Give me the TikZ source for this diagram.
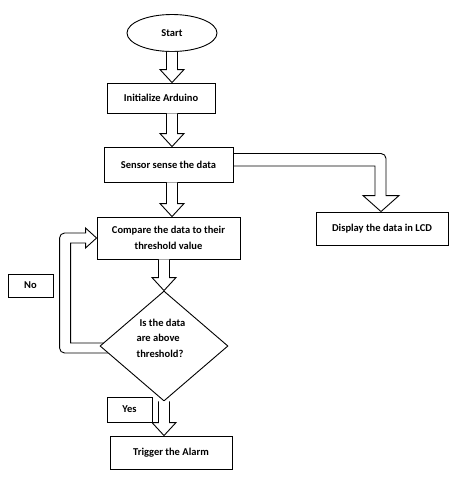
\documentclass[tikz,border=0pt]{standalone}
\usepackage{fontspec}
\setmainfont{Carlito}
\usetikzlibrary{shapes.geometric,calc}
\pgfdeclarelayer{bg}
\pgfsetlayers{bg,main}
\tikzset{
  every node/.style={font=\fontsize{10.5}{15.5}\selectfont\bfseries},
  box/.style={draw, line width=0.9pt, fill=white, inner sep=0pt, align=center},
  startnode/.style={box, ellipse, minimum width=90pt, minimum height=37pt},
  decision/.style={box, diamond, minimum width=128pt, minimum height=110pt},
  fatarrow/.style={draw, line width=0.9pt, fill=white, line join=miter},
}
\newcommand\fatdown[2]{%
  \draw[fatarrow] let \p1=(#1), \p2=(#2) in
    (\x1-5.5pt,\y1) -- (\x1-5.5pt,\y2+13pt) -- (\x1-12pt,\y2+13pt) -- (\x1,\y2)
    -- (\x1+12pt,\y2+13pt) -- (\x1+5.5pt,\y2+13pt) -- (\x1+5.5pt,\y1);}
\begin{document}
\begin{tikzpicture}[x=1pt,y=-1pt]
\useasboundingbox (0,0) rectangle (454,480);
\node[startnode] (start) at (172,33) {Start};
\node[box, minimum width=108pt, minimum height=30pt] (init) at (161,98) {Initialize Arduino};
\node[box, minimum width=129pt, minimum height=35pt] (sensor) at (168.5,164.5) {Sensor sense the data};
\node[box, minimum width=143pt, minimum height=42pt] (cmp) at (168.5,238) {Compare the data to their\\threshold value};
\node[decision] (dia) at (164,346) {};
\node[align=left, inner sep=0pt] (diatext) at (161,338) {\hspace{3pt}Is the data\\are above\\threshold?};
\node[box, minimum width=45pt, minimum height=25pt] (yes) at (129.5,409.5) {Yes};
\node[box, minimum width=122pt, minimum height=33pt] (trig) at (171,452.5) {Trigger the Alarm};
\node[box, minimum width=45pt, minimum height=23pt] (no) at (30.5,285.5) {No};
\node[box, minimum width=132pt, minimum height=33pt] (lcd) at (382,228.5) {Display the data in LCD};

\fatdown{start.south}{init.north}
\fatdown{init.south -| start.south}{sensor.north}
\fatdown{sensor.south -| start.south}{cmp.north}
\fatdown{cmp.south -| dia.north}{dia.north}
\fatdown{dia.south}{trig.north}

\begin{pgfonlayer}{bg}
% No loop
\draw[fatarrow] let \p1=(dia.west), \p2=(cmp.west) in
  (\x1+12pt,\y1-7pt) [rounded corners=5pt]-- (\x2-37pt,\y1-7pt) -- (\x2-37pt,\y2+5pt)
  [sharp corners]-- (\x2-11pt,\y2+5pt) -- (\x2-11pt,\y2+10pt) -- (\x2,\y2)
  -- (\x2-11pt,\y2-10pt) -- (\x2-11pt,\y2-5pt) -- (\x2-26pt,\y2-5pt)
  -- (\x2-26pt,\y1+3pt) -- (\x1+12pt,\y1+3pt);
% Sensor to LCD
\draw[fatarrow] let \p1=(sensor.east), \p2=(lcd.north) in
  (\x1-6pt,\y1+11pt) [rounded corners=5pt]-- (\x2+4pt,\y1+11pt)
  [sharp corners]-- (\x2+4pt,\y2+16pt) -- (\x2+17pt,\y2+16pt) -- (\x2-1pt,\y2)
  -- (\x2-19pt,\y2+16pt) -- (\x2-7pt,\y2+16pt) -- (\x2-7pt,\y1-1.5pt) -- (\x1-6pt,\y1-1.5pt);
\end{pgfonlayer}
\end{tikzpicture}
\end{document}
